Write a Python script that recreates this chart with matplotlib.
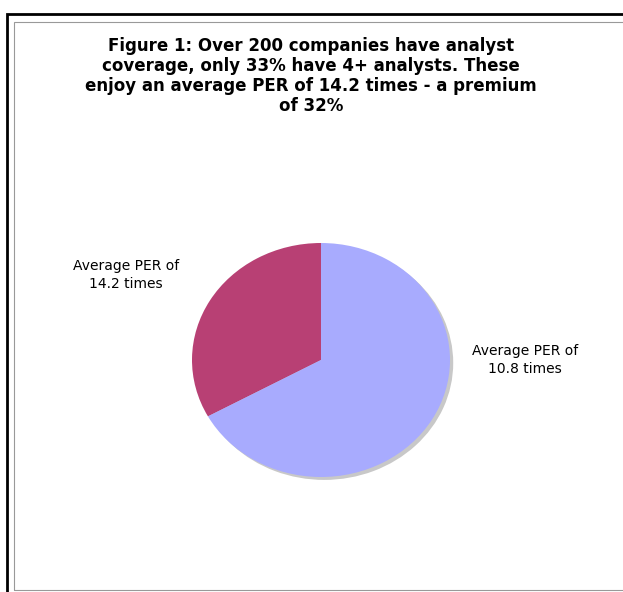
import matplotlib.pyplot as plt
from matplotlib.patches import Rectangle

title = ("Figure 1: Over 200 companies have analyst\n"
         "coverage, only 33% have 4+ analysts. These\n"
         "enjoy an average PER of 14.2 times - a premium\n"
         "of 32%")
labels = ["Average PER of\n14.2 times", "Average PER of\n10.8 times"]
shares = [33, 67]
colors = ["#B84074", "#A8ABFE"]

W, H = 623, 592
fig = plt.figure(figsize=(W / 100, H / 100), dpi=100)

# page borders
fig.add_artist(Rectangle((7 / W, -0.1), 1.2, (H - 14) / H + 0.1, transform=fig.transFigure,
                         fill=False, edgecolor="black", linewidth=2))
fig.add_artist(Rectangle((14 / W, 2 / H), 1.2, (H - 24) / H, transform=fig.transFigure,
                         fill=False, edgecolor="#999999", linewidth=0.8))

fig.text(311 / W, 1 - 76 / H, title, ha="center", va="center", fontsize=12,
         fontweight="bold", linespacing=1.15)

# pie in an axes box that gives the slightly wide ellipse
ax = fig.add_axes([192 / W, 115 / H, 258 / W, 234 / H])
ax.pie([sum(shares)], colors=["#C8C8C8"], center=(0.025, -0.025), radius=1.0)
ax.pie(shares, colors=colors, startangle=90, counterclock=True, radius=1.0)
ax.set_aspect("auto")
ax.set_xlim(-1, 1)
ax.set_ylim(-1, 1)
ax.axis("off")

fig.text(126 / W, 1 - 275 / H, labels[0], ha="center", va="center", fontsize=10, linespacing=1.3)
fig.text(525 / W, 1 - 360 / H, labels[1], ha="center", va="center", fontsize=10, linespacing=1.3)

fig.savefig("out.png", dpi=100)
